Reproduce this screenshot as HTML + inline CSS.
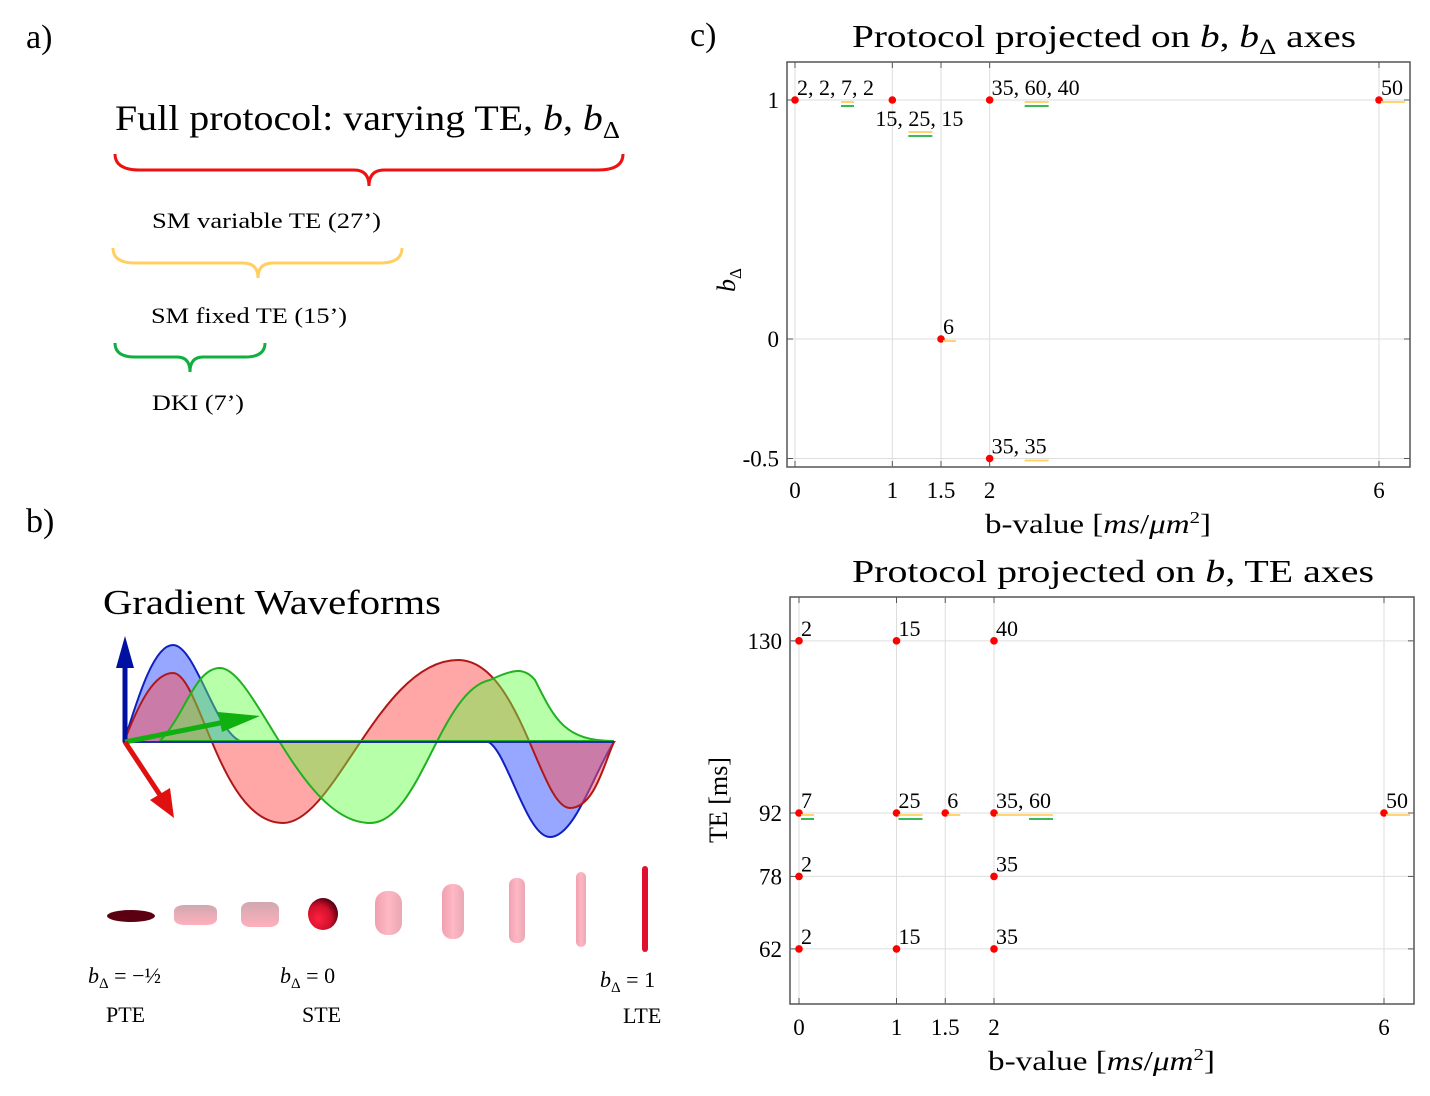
<!DOCTYPE html>
<html><head><meta charset="utf-8">
<style>
body{margin:0;background:#fff;}
svg{display:block;font-family:"Liberation Serif",serif;}
</style></head>
<body>
<svg id="fig" width="1430" height="1096" viewBox="0 0 1430 1096" xmlns="http://www.w3.org/2000/svg">
<defs>
<radialGradient id="sph" cx="35%" cy="65%" r="70%"><stop offset="0" stop-color="#ff2040"/><stop offset="0.6" stop-color="#d0102a"/><stop offset="1" stop-color="#500010"/></radialGradient>
<linearGradient id="pink" x1="0" y1="0" x2="0" y2="1"><stop offset="0" stop-color="#d0a8b0"/><stop offset="1" stop-color="#ffb0bc"/></linearGradient>
<linearGradient id="pinkh" x1="0" y1="0" x2="1" y2="0"><stop offset="0" stop-color="#f0a0b0"/><stop offset="0.5" stop-color="#ffb8c4"/><stop offset="1" stop-color="#e8a8b4"/></linearGradient>
</defs>

<!-- panel a -->
<text x="26" y="48" font-size="34">a)</text>
<text x="115" y="130" font-size="36" textLength="505" lengthAdjust="spacingAndGlyphs">Full protocol:  varying TE, <tspan font-style="italic">b</tspan>, <tspan font-style="italic">b</tspan><tspan font-size="24" dy="8">Δ</tspan></text>
<path d="M115,154 Q115,170 140,170 L354,170 Q369,170 369,186 Q369,170 384,170 L598,170 Q623,170 623,154" fill="none" stroke="#ee1111" stroke-width="3"/>
<text x="152" y="228" font-size="22" textLength="229" lengthAdjust="spacingAndGlyphs">SM variable TE (27’)</text>
<path d="M113,248 Q113,263 135,263 L243,263 Q258,263 258,278 Q258,263 273,263 L380,263 Q402,263 402,248" fill="none" stroke="#ffd060" stroke-width="3"/>
<text x="151" y="323" font-size="22" textLength="196" lengthAdjust="spacingAndGlyphs">SM fixed TE (15’)</text>
<path d="M115,343 Q115,357 135,357 L177,357 Q190,357 190,372 Q190,357 203,357 L245,357 Q265,357 265,343" fill="none" stroke="#10b040" stroke-width="3"/>
<text x="152" y="410" font-size="22" textLength="92" lengthAdjust="spacingAndGlyphs">DKI (7’)</text>

<!-- panel b -->
<text x="26" y="532" font-size="34">b)</text>
<text x="103" y="614" font-size="35" textLength="338" lengthAdjust="spacingAndGlyphs">Gradient Waveforms</text>
<g>
<path d="M124,742 C140,690 155,645 173,645 C195,645 215,730 240,741 L485,741 C505,741 525,837 550,837 C575,837 595,770 614,742 Z" fill="#3050ff" fill-opacity="0.5" stroke="#1020c0" stroke-width="2"/>
<path d="M124,742 C140,700 155,673 173,673 C200,673 220,823 283,823 C335,823 380,660 458,660 C520,660 540,808 570,808 C595,808 605,760 614,742 Z" fill="#ff5050" fill-opacity="0.5" stroke="#b01818" stroke-width="2"/>
<path d="M160,741 C185,715 195,668 220,668 C255,668 300,823 370,823 C420,823 440,690 490,680 C515,668 525,668 535,680 C555,720 565,741 614,741 Z" fill="#60ff40" fill-opacity="0.45" stroke="#20b020" stroke-width="2"/>
<line x1="124" y1="742" x2="614" y2="742" stroke="#2030a0" stroke-width="2"/>
<line x1="125" y1="742" x2="125" y2="655" stroke="#0010a0" stroke-width="5"/>
<polygon points="116,668 125,636 134,668" fill="#0010a0"/>
<line x1="125" y1="742" x2="225" y2="722" stroke="#10b010" stroke-width="5"/>
<polygon points="218,712 260,716 222,732" fill="#10b010"/>
<line x1="125" y1="742" x2="160" y2="795" stroke="#e01010" stroke-width="5"/>
<polygon points="150,800 170,788 174,818" fill="#e01010"/>
</g>
<g>
<ellipse cx="131" cy="916" rx="24" ry="6" fill="#5a0010"/>
<rect x="174" y="905" width="43" height="20" rx="10" ry="6" fill="url(#pink)"/>
<rect x="241" y="902" width="38" height="25" rx="9" ry="7" fill="url(#pink)"/>
<ellipse cx="323" cy="914" rx="15" ry="16" fill="url(#sph)"/>
<rect x="375" y="891" width="27" height="44" rx="12" fill="url(#pinkh)"/>
<rect x="442" y="884" width="22" height="55" rx="10" fill="url(#pinkh)"/>
<rect x="509" y="878" width="16" height="65" rx="7" fill="url(#pinkh)"/>
<rect x="576" y="872" width="10" height="75" rx="5" fill="url(#pinkh)"/>
<rect x="642" y="866" width="6" height="86" rx="3" fill="#e01030"/>
</g>
<text x="88" y="983" font-size="22"><tspan font-style="italic">b</tspan><tspan font-size="15" dy="5">Δ</tspan><tspan dy="-5"> = −½</tspan></text>
<text x="106" y="1022" font-size="22">PTE</text>
<text x="280" y="983" font-size="22"><tspan font-style="italic">b</tspan><tspan font-size="15" dy="5">Δ</tspan><tspan dy="-5"> = 0</tspan></text>
<text x="302" y="1022" font-size="22">STE</text>
<text x="600" y="987" font-size="22"><tspan font-style="italic">b</tspan><tspan font-size="15" dy="5">Δ</tspan><tspan dy="-5"> = 1</tspan></text>
<text x="623" y="1023" font-size="22">LTE</text>

<!-- panel c -->
<text x="690" y="46" font-size="34">c)</text>
<text x="852" y="47" font-size="32" textLength="504" lengthAdjust="spacingAndGlyphs">Protocol projected on <tspan font-style="italic">b</tspan>, <tspan font-style="italic">b</tspan><tspan font-size="22" dy="7">Δ</tspan><tspan dy="-7"> axes</tspan></text>
<text x="852" y="582" font-size="32" textLength="522" lengthAdjust="spacingAndGlyphs">Protocol projected on <tspan font-style="italic">b</tspan>, TE axes</text>
<g id="top"></g>
<g id="bot"></g>
</svg>
<script>
const NS="http://www.w3.org/2000/svg";
// top chart data
const topXTicks=[0,1,1.5,2,6];
const topYTicks=[1,0,-0.5];
const topYLabels=["1","0","-0.5"];
const topB=[0,1,2,6,1.5,2];
const topBD=[1,1,1,1,0,-0.5];
const topLabels=["2, 2, 7, 2","15, 25, 15","35, 60, 40","50","6","35, 35"];
const topLabelBelow=[false,true,false,false,false,false];
// underline part indices: yellow from/to, green (-1 none)
const topYel=[[2,2],[1,1],[1,1],[0,0],[0,0],[1,1]];
const topGreen=[2,1,1,-1,-1,-1];
// bottom chart data
const botXTicks=[0,1,1.5,2,6];
const botYTicks=[130,92,78,62];
const botB=[0,1,2,0,1,1.5,2,6,0,2,0,1,2];
const botTE=[130,130,130,92,92,92,92,92,78,78,62,62,62];
const botLabels=["2","15","40","7","25","6","35, 60","50","2","35","2","15","35"];
const botYel=[null,null,null,[0,0],[0,0],[0,0],[0,1],[0,0],null,null,null,null,null];
const botGreen=[-1,-1,-1,0,0,-1,1,-1,-1,-1,-1,-1,-1];

function el(tag,attrs,parent,txt){const e=document.createElementNS(NS,tag);for(const k in attrs)e.setAttribute(k,attrs[k]);if(txt!==undefined)e.textContent=txt;parent.appendChild(e);return e;}

function partRange(tx,lbl,a,b){
  const parts=lbl.split(', ');let idx=0;const st=[];
  parts.forEach(p=>{st.push(idx);idx+=p.length+2;});
  const s=st[a], e=st[b]+parts[b].length;
  const x0=tx.getStartPositionOfChar(s).x;
  const x1=tx.getEndPositionOfChar(e-1).x;
  return [x0,x1];
}

function chart(g,box,xs,ys,xT,yT,yL,bs,vs,labels,below,yel,green){
  el('rect',{x:box.x0,y:box.y0,width:box.x1-box.x0,height:box.y1-box.y0,fill:'none',stroke:'#555','stroke-width':1.5},g);
  xT.forEach(t=>{const x=xs(t);
    const gl=el('line',{x1:x,y1:box.y0,x2:x,y2:box.y1,stroke:'#ddd','stroke-width':1},g);
    
    
    el('line',{x1:x,y1:box.y0,x2:x,y2:box.y0+6,stroke:'#555'},g);
    el('line',{x1:x,y1:box.y1,x2:x,y2:box.y1-6,stroke:'#555'},g);
    const tx=el('text',{x:x,y:box.y1+31,'font-size':23,'text-anchor':'middle'},g,String(t));
    
    
  });
  yT.forEach((t,i)=>{const y=ys(t);
    const gl=el('line',{x1:box.x0,y1:y,x2:box.x1,y2:y,stroke:'#ddd','stroke-width':1},g);
    
    
    el('line',{x1:box.x0,y1:y,x2:box.x0+6,y2:y,stroke:'#555'},g);
    el('line',{x1:box.x1,y1:y,x2:box.x1-6,y2:y,stroke:'#555'},g);
    const tx=el('text',{x:box.x0-8,y:y+8,'font-size':23,'text-anchor':'end'},g,yL[i]);
    
    
  });
  bs.forEach((b,i)=>{const x=xs(b),y=ys(vs[i]);
    const c=el('circle',{cx:x,cy:y,r:3.8,fill:'#ff0000'},g);
    
    
    const bl=below&&below[i];
    const ly=bl?y+26:y-5;
    const lx=bl?x-17:x+2;
    const tx=el('text',{x:lx,y:ly,'font-size':22},g,labels[i]);
    
    
    if(yel[i]){
      const uy=bl?ly+6:y+2;
      const [a0,a1]=partRange(tx,labels[i],yel[i][0],yel[i][1]);
      el('line',{x1:a0,y1:uy,x2:a1+2,y2:uy,stroke:'#ffd060','stroke-width':1.8},g);
      if(green[i]>=0){const [g0,g1]=partRange(tx,labels[i],green[i],green[i]);
        el('line',{x1:g0,y1:uy+4,x2:g1+2,y2:uy+4,stroke:'#20b040','stroke-width':1.8},g);}
    }
  });
}
const tb={x0:787,x1:1410,y0:62,y1:467};
const txs=v=>795+v*97.33, tys=v=>339-v*239;
chart(document.getElementById('top'),tb,txs,tys,topXTicks,topYTicks,topYLabels,topB,topBD,topLabels,topLabelBelow,topYel,topGreen);
const bb={x0:790,x1:1414,y0:597,y1:1004};
const bxs=v=>799+v*97.5, bys=v=>813-(v-92)*4.53;
chart(document.getElementById('bot'),bb,bxs,bys,botXTicks,botYTicks,botYTicks.map(String),botB,botTE,botLabels,null,botYel,botGreen);
// axis titles
const svg=document.getElementById('fig');
let t=el('text',{x:985,y:533,'font-size':27,textLength:226,lengthAdjust:'spacingAndGlyphs'},svg);
t.innerHTML='b-value [<tspan font-style="italic">ms</tspan>/<tspan font-style="italic">μm</tspan><tspan font-size="17" dy="-10">2</tspan><tspan dy="10">]</tspan>';


t=el('text',{x:988,y:1070,'font-size':27,textLength:227,lengthAdjust:'spacingAndGlyphs'},svg);
t.innerHTML='b-value [<tspan font-style="italic">ms</tspan>/<tspan font-style="italic">μm</tspan><tspan font-size="17" dy="-10">2</tspan><tspan dy="10">]</tspan>';


t=el('text',{x:0,y:0,'font-size':26,transform:'translate(735,280) rotate(-90)','text-anchor':'middle'},svg);
t.innerHTML='<tspan font-style="italic">b</tspan><tspan font-size="17" dy="6">Δ</tspan>';


t=el('text',{x:0,y:0,'font-size':26,transform:'translate(727,800) rotate(-90)','text-anchor':'middle'},svg,'TE [ms]');


</script>
</body></html>
